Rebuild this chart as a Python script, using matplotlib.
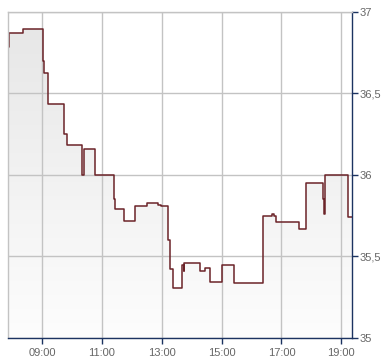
import numpy as np
import matplotlib
matplotlib.use("Agg")
import matplotlib.pyplot as plt
from matplotlib.ticker import FuncFormatter

# intraday price steps (hour of day, price)
hours = [7.867, 7.877, 8.367, 9.033, 9.057, 9.18, 9.733, 9.813, 10.333, 10.4,
         10.78, 11.413, 11.433, 11.723, 12.1, 12.5, 12.867, 12.98, 13.19, 13.213,
         13.257, 13.28, 13.357, 13.667, 13.733, 13.757, 14.267, 14.447, 14.62, 15.0,
         15.4, 16.367, 16.667, 16.733, 16.8, 17.6, 17.833, 18.38, 18.433, 18.45,
         19.233]
prices = [36.785, 36.867, 36.891, 36.697, 36.622, 36.434, 36.248, 36.181, 36.0, 36.156,
          36.0, 35.85, 35.789, 35.715, 35.809, 35.825, 35.817, 35.809, 35.70, 35.60,
          35.498, 35.423, 35.305, 35.448, 35.41, 35.458, 35.413, 35.427, 35.345, 35.446,
          35.336, 35.748, 35.76, 35.748, 35.71, 35.666, 35.948, 35.85, 35.76, 36.0,
          35.744]
x_end = 19.367

y_ticks = [35, 35.5, 36, 36.5, 37]
x_ticks = [9, 11, 13, 15, 17, 19]

LINE = "#6b2328"
AXIS = "#1c3361"
GRID = "#c3c3c3"
TXT = "#666666"

plt.rcParams["font.family"] = ["Liberation Sans", "DejaVu Sans"]

fig = plt.figure(figsize=(3.9, 3.64), dpi=100)
ax = fig.add_axes([8.3 / 390, 1 - 338 / 364, 344 / 390, 326.5 / 364])

xs = np.array(hours + [x_end])
ys = np.array(prices + [prices[-1]])

ax.set_xlim(hours[0], x_end)
ax.set_ylim(35, 37)

# gradient fill under the step line
grad = np.linspace(0, 1, 256).reshape(-1, 1)
cmap = matplotlib.colors.LinearSegmentedColormap.from_list("g", ["#fdfdfd", "#e6e6e6"])
im = ax.imshow(grad, extent=[hours[0], x_end, 35, 37], origin="lower",
               aspect="auto", cmap=cmap, zorder=1)
poly = ax.fill_between(xs, ys, 35, step="post", color="none", lw=0)
clip = poly.get_paths()[0]
im.set_clip_path(clip, transform=ax.transData)

ax.step(xs, ys, where="post", color=LINE, lw=1.1, zorder=3)

ax.set_yticks(y_ticks)
ax.set_xticks(x_ticks)
ax.yaxis.tick_right()
ax.yaxis.set_major_formatter(FuncFormatter(
    lambda v, p: ("%g" % v).replace(".", ",")))
ax.xaxis.set_major_formatter(FuncFormatter(lambda v, p: "%02d:00" % int(v)))
ax.grid(True, color=GRID, lw=1, zorder=2)
ax.set_axisbelow(False)
for gl in ax.get_xgridlines() + ax.get_ygridlines():
    gl.set_zorder(2)

ax.tick_params(axis="both", colors=AXIS, labelcolor=TXT, labelsize=8,
               length=4, width=1, direction="out")
ax.tick_params(axis="x", pad=3)
ax.tick_params(axis="y", pad=1)

ax.spines["left"].set_color(GRID)
ax.spines["top"].set_color(GRID)
ax.spines["right"].set_color(AXIS)
ax.spines["bottom"].set_color(AXIS)
for s in ax.spines.values():
    s.set_linewidth(1)
    s.set_zorder(4)

fig.savefig("out.png", dpi=100)
